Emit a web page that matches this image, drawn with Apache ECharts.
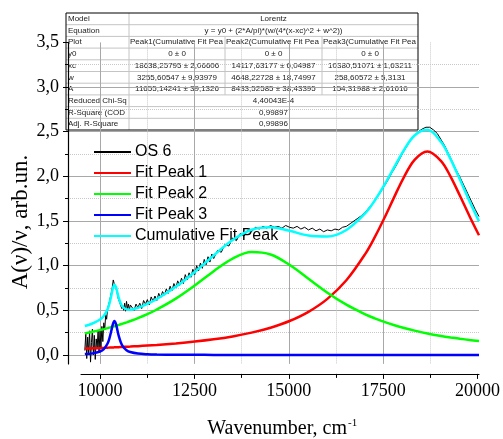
<!DOCTYPE html>
<html><head><meta charset="utf-8">
<script src="https://cdn.jsdelivr.net/npm/echarts@6/dist/echarts.min.js"></script>
<style>html,body{margin:0;padding:0;background:#fff}#c{width:503px;height:439px}</style>
</head><body><div id="c"></div>
<script>
// ---- data ----
const fitX = [9600, 9800, 10000, 10100, 10200, 10250, 10300, 10340, 10380, 10420, 10460, 10500, 10550, 10600, 10700, 10800, 11000, 11250, 11500, 12000, 12500, 13000, 13500, 14000, 14500, 15000, 15500, 16000, 16500, 17000, 17250, 17500, 17750, 18000, 18300, 18638, 19000, 19250, 19500, 19750, 20000];
const peak1 = [0.0716, 0.0748, 0.0781, 0.0799, 0.0818, 0.0827, 0.0837, 0.0844, 0.0852, 0.0860, 0.0869, 0.0877, 0.0887, 0.0898, 0.0920, 0.0942, 0.0990, 0.1055, 0.1127, 0.1293, 0.1497, 0.1753, 0.2079, 0.2499, 0.3054, 0.3801, 0.4832, 0.6285, 0.8363, 1.1323, 1.3195, 1.5309, 1.7563, 1.9756, 2.1848, 2.2790, 2.1716, 1.9967, 1.7799, 1.5538, 1.3405];
const peak2 = [0.2418, 0.2595, 0.2791, 0.2896, 0.3007, 0.3065, 0.3123, 0.3172, 0.3221, 0.3271, 0.3322, 0.3374, 0.3442, 0.3510, 0.3653, 0.3802, 0.4127, 0.4579, 0.5092, 0.6311, 0.7782, 0.9382, 1.0789, 1.1521, 1.1247, 1.0095, 0.8532, 0.6975, 0.5633, 0.4551, 0.4101, 0.3704, 0.3356, 0.3047, 0.2725, 0.2415, 0.2134, 0.1966, 0.1815, 0.1681, 0.1560];
const peak3 = [0.0102, 0.0180, 0.0393, 0.0666, 0.1288, 0.1882, 0.2738, 0.3460, 0.3799, 0.3475, 0.2757, 0.2049, 0.1397, 0.0979, 0.0535, 0.0330, 0.0159, 0.0082, 0.0050, 0.0024, 0.0014, 0.0009, 0.0007, 0.0005, 0.0004, 0.0003, 0.0002, 0.0002, 0.0002, 0.0001, 0.0001, 0.0001, 0.0001, 0.0001, 0.0001, 0.0001, 0.0001, 0.0001, 0.0001, 0.0001, 0.0001];
const cumulative = [0.3236, 0.3523, 0.3965, 0.4361, 0.5113, 0.5774, 0.6698, 0.7476, 0.7872, 0.7606, 0.6948, 0.6300, 0.5726, 0.5387, 0.5108, 0.5074, 0.5276, 0.5716, 0.6269, 0.7628, 0.9293, 1.1144, 1.2875, 1.4025, 1.4305, 1.3899, 1.3366, 1.3262, 1.3998, 1.5875, 1.7297, 1.9014, 2.0920, 2.2804, 2.4574, 2.5206, 2.3851, 2.1934, 1.9615, 1.7220, 1.4966];

const osX = [9600, 9625, 9650, 9675, 9700, 9725, 9750, 9775, 9800, 9825, 9850, 9875, 9900, 9925, 9950, 9975,
 10000, 10025, 10050, 10075, 10100, 10125, 10150, 10175, 10200, 10225, 10250, 10275, 10300, 10325, 10350, 10375,
 10400, 10425, 10450, 10475, 10500, 10525, 10550, 10575, 10600, 10625, 10650, 10675, 10700, 10725, 10750, 10775, 10800,
 10850, 10900, 10950, 11000, 11050, 11100, 11150, 11200, 11250, 11300, 11350, 11400, 11450, 11500, 11550, 11600,
 11650, 11700, 11750, 11800, 11850, 11900, 11950, 12000, 12050, 12100, 12150, 12200, 12250, 12300, 12350, 12400,
 12450, 12500, 12550, 12600, 12650, 12700, 12750, 12800, 12850, 12900, 12950, 13000,
 13100, 13200, 13300, 13400, 13500, 13600, 13700, 13800, 13900, 14000, 14100, 14200, 14300, 14400, 14500, 14600,
 14700, 14800, 14900, 15000, 15100, 15200, 15300, 15400, 15500, 15600, 15700, 15800, 15900, 16000, 16100, 16200,
 16300, 16400, 16500, 16600, 16700, 16800, 16900, 17000, 17100, 17200, 17300, 17400, 17500, 17600, 17700, 17800,
 17900, 18000, 18100, 18200, 18300, 18400, 18500, 18600, 18700, 18800, 18900, 19000, 19100, 19200, 19300, 19400,
 19500, 19600, 19700, 19800, 19900, 20000];
const osY = [0.05, 0.24, -0.04, 0.20, 0.02, 0.27, -0.08, 0.14, 0.29, 0.00, 0.22, -0.05, 0.18, 0.08, 0.27, 0.03,
 0.28, 0.08, 0.32, 0.15, 0.36, 0.28, 0.45, 0.40, 0.52, 0.50, 0.60, 0.62, 0.70, 0.76, 0.84, 0.80,
 0.82, 0.74, 0.70, 0.64, 0.62, 0.58, 0.56, 0.52, 0.55, 0.50, 0.58, 0.49, 0.60, 0.52, 0.57, 0.50, 0.56,
 0.55, 0.50, 0.57, 0.53, 0.58, 0.52, 0.61, 0.57, 0.62, 0.56, 0.65, 0.60, 0.66, 0.61, 0.69, 0.64,
 0.71, 0.67, 0.74, 0.69, 0.77, 0.72, 0.80, 0.75, 0.83, 0.78, 0.86, 0.80, 0.90, 0.84, 0.92, 0.87,
 0.96, 0.90, 1.00, 0.94, 1.03, 0.97, 1.07, 1.01, 1.10, 1.04, 1.13, 1.08,
 1.17, 1.15, 1.24, 1.22, 1.31, 1.28, 1.36, 1.33, 1.40, 1.38, 1.43, 1.41, 1.44, 1.42, 1.45, 1.43,
 1.44, 1.42, 1.45, 1.43, 1.42, 1.44, 1.41, 1.43, 1.40, 1.42, 1.39, 1.41, 1.38, 1.40, 1.39, 1.41,
 1.40, 1.43, 1.44, 1.47, 1.50, 1.53, 1.56, 1.60, 1.65, 1.70, 1.76, 1.82, 1.89, 1.96, 2.04, 2.11,
 2.19, 2.27, 2.34, 2.41, 2.46, 2.50, 2.53, 2.55, 2.55, 2.52, 2.48, 2.41, 2.34, 2.25, 2.16, 2.07,
 1.99, 1.90, 1.81, 1.72, 1.63, 1.55];

const seriesNames = ['OS 6', 'Fit Peak 1', 'Fit Peak 2', 'Fit Peak 3', 'Cumulative Fit Peak'];
const seriesColors = ['#000000', '#ff0000', '#00ff00', '#0000ff', '#00ffff'];

// fit report table texts
const tblRowHeads = ['Model', 'Equation', 'Plot', 'y0', 'xc', 'w', 'A', 'Reduced Chi-Sq', 'R-Square (COD', 'Adj. R-Square'];
const tblMergedRows = [[0, 'Lorentz'], [1, 'y = y0 + (2*A/pi)*(w/(4*(x-xc)^2 + w^2))'], [7, '4,40043E-4'], [8, '0,99897'], [9, '0,99896']];
const tblPeakCols = [
  ['Peak1(Cumulative Fit Pea', '0 ± 0', '18638,25795 ± 2,06606', '3255,60547 ± 9,93979', '11655,14241 ± 39,1326'],
  ['Peak2(Cumulative Fit Pea', '0 ± 0', '14117,63177 ± 6,04987', '4648,22728 ± 18,74997', '8433,52585 ± 38,43395'],
  ['Peak3(Cumulative Fit Pea', '0 ± 0', '10380,51071 ± 1,63211', '258,60572 ± 5,3131', '154,31988 ± 2,61616']
];
const xAxisTitle = 'Wavenumber, cm';
const xAxisTitleSup = '-1';
const yAxisTitle = 'A(ν)/ν, arb.un.';

// ---- chart ----
const serif = '"Liberation Serif","Times New Roman",serif';
const sans = '"Liberation Sans",Arial,sans-serif';
const chart = echarts.init(document.getElementById('c'), null, {renderer: 'canvas', width: 503, height: 439});

function lineSeries(i, xs, ys, width, smooth) {
  return {
    name: seriesNames[i], type: 'line', xAxisIndex: 0, yAxisIndex: 0,
    data: xs.map((x, k) => [x, ys[k]]),
    symbol: 'none', showSymbol: false, smooth: smooth,
    lineStyle: {color: seriesColors[i], width: width},
    itemStyle: {color: seriesColors[i]},
    emphasis: {disabled: true}, silent: true, z: 2 + i
  };
}

// table graphic
const tX = [66, 129, 225, 322, 418];
const tTop = 13, rowH = 11.7, nRows = 10;
const tEls = [];
tEls.push({type: 'rect', shape: {x: tX[0], y: tTop, width: tX[4] - tX[0], height: rowH * nRows}, style: {fill: '#ffffff', stroke: null}});
for (let r = 1; r < nRows; r++) {
  tEls.push({type: 'line', shape: {x1: tX[0], y1: tTop + r * rowH, x2: tX[4], y2: tTop + r * rowH}, style: {stroke: '#c4c4c4', lineWidth: 1}});
}
tEls.push({type: 'line', shape: {x1: tX[1], y1: tTop, x2: tX[1], y2: tTop + nRows * rowH}, style: {stroke: '#c4c4c4', lineWidth: 1}});
[tX[2], tX[3]].forEach(x => tEls.push({type: 'line', shape: {x1: x, y1: tTop + 2 * rowH, x2: x, y2: tTop + 7 * rowH}, style: {stroke: '#c4c4c4', lineWidth: 1}}));
tEls.push({type: 'rect', shape: {x: tX[0], y: tTop, width: tX[4] - tX[0], height: rowH * nRows}, style: {fill: null, stroke: '#000', lineWidth: 1}});
function tText(txt, x, y, align) {
  return {type: 'text', x: x, y: y, style: {text: txt, fill: '#222', fontSize: 8, fontFamily: sans, align: align, textAlign: align, verticalAlign: 'middle', textVerticalAlign: 'middle'}};
}
tblRowHeads.forEach((h, r) => tEls.push(tText(h, tX[0] + 2, tTop + (r + 0.5) * rowH, 'left')));
tblMergedRows.forEach(([r, t]) => tEls.push(tText(t, (tX[1] + tX[4]) / 2, tTop + (r + 0.5) * rowH, 'center')));
tblPeakCols.forEach((col, c) => {
  col.forEach((t, k) => {
    const r = k + 2;
    if (k === 0) tEls.push(tText(t, tX[c + 1] + 1, tTop + (r + 0.5) * rowH, 'left'));
    else tEls.push(tText(t, (tX[c + 1] + tX[c + 2]) / 2, tTop + (r + 0.5) * rowH, 'center'));
  });
});

const gridSplit = {color: '#a8a8a8', width: 1};
const gridMinor = {color: '#c8c8c8', width: 1, type: 'dotted'};

const option = {
  animation: false,
  backgroundColor: '#ffffff',
  grid: [
    {left: 81.05, right: 24, top: 42.4, bottom: 75.1},
    {left: 100, right: 24, top: 42.4, bottom: 75.1},
    {left: 68, right: 24, top: 42.4, bottom: 84}
  ],
  xAxis: [
    {gridIndex: 0, type: 'value', min: 9500, max: 20000, offset: 10,
     axisLine: {show: true, onZero: false, lineStyle: {color: '#000', width: 1.2}},
     axisTick: {show: false}, axisLabel: {show: false}, splitLine: {show: false}},
    {gridIndex: 1, type: 'value', min: 10000, max: 20000, interval: 2500, offset: 10,
     axisLine: {show: false, onZero: false},
     axisTick: {show: true, length: 5, lineStyle: {color: '#000', width: 1}},
     minorTick: {show: true, splitNumber: 2, length: 4, lineStyle: {color: '#000', width: 1}},
     axisLabel: {show: true, margin: 8, color: '#000', fontFamily: serif, fontSize: 18, formatter: v => String(v)},
     splitLine: {show: true, showMinLine: true, showMaxLine: false, lineStyle: gridSplit},
     minorSplitLine: {show: true, lineStyle: gridMinor}},
    {gridIndex: 2, type: 'value', min: 0, max: 1, show: false}
  ],
  yAxis: [
    {gridIndex: 0, type: 'value', min: -0.1, max: 3.5, offset: 13.05,
     axisLine: {show: true, onZero: false, lineStyle: {color: '#000', width: 1.2}},
     axisTick: {show: false}, axisLabel: {show: false}, splitLine: {show: false}},
    {gridIndex: 1, type: 'value', min: 0, max: 1, show: false},
    {gridIndex: 2, type: 'value', min: 0, max: 3.5, interval: 0.5,
     axisLine: {show: false, onZero: false},
     axisTick: {show: true, length: 5, lineStyle: {color: '#000', width: 1}},
     minorTick: {show: true, splitNumber: 2, length: 3, lineStyle: {color: '#000', width: 1}},
     axisLabel: {show: true, margin: 9, color: '#000', fontFamily: serif, fontSize: 18, formatter: v => v.toFixed(1).replace('.', ',')},
     splitLine: {show: true, showMinLine: true, showMaxLine: false, lineStyle: gridSplit},
     minorSplitLine: {show: true, lineStyle: gridMinor}}
  ],
  legend: {
    orient: 'vertical', left: 88, top: 139, itemWidth: 37, itemHeight: 14, itemGap: 5, z: 1,
    selectedMode: false, data: seriesNames,
    itemStyle: {opacity: 0, borderWidth: 0},
    textStyle: {fontFamily: sans, fontSize: 16, color: '#000', lineHeight: 16, padding: [0, 0, 0, -1]}
  },
  series: [
    lineSeries(0, osX, osY, 1, false),
    lineSeries(1, fitX, peak1, 2.5, 0.35),
    lineSeries(2, fitX, peak2, 2.5, 0.35),
    lineSeries(3, fitX, peak3, 2.5, 0.35),
    lineSeries(4, fitX, cumulative, 2.5, 0.35)
  ],
  graphic: {elements: [
    {type: 'text', x: 21, y: 222, rotation: Math.PI / 2,
     style: {text: yAxisTitle, fill: '#000', fontSize: 23, fontFamily: serif, align: 'center', textAlign: 'center', verticalAlign: 'middle', textVerticalAlign: 'middle'}},
    {type: 'text', x: 347, y: 429,
     style: {text: xAxisTitle, fill: '#000', fontSize: 20, fontFamily: serif, align: 'right', textAlign: 'right', verticalAlign: 'middle', textVerticalAlign: 'middle'}},
    {type: 'text', x: 348, y: 423,
     style: {text: xAxisTitleSup, fill: '#000', fontSize: 11, fontFamily: serif, align: 'left', textAlign: 'left', verticalAlign: 'middle', textVerticalAlign: 'middle'}},
    {type: 'group', z: 100, children: tEls}
  ]}
};
chart.setOption(option);
</script>
</body></html>
